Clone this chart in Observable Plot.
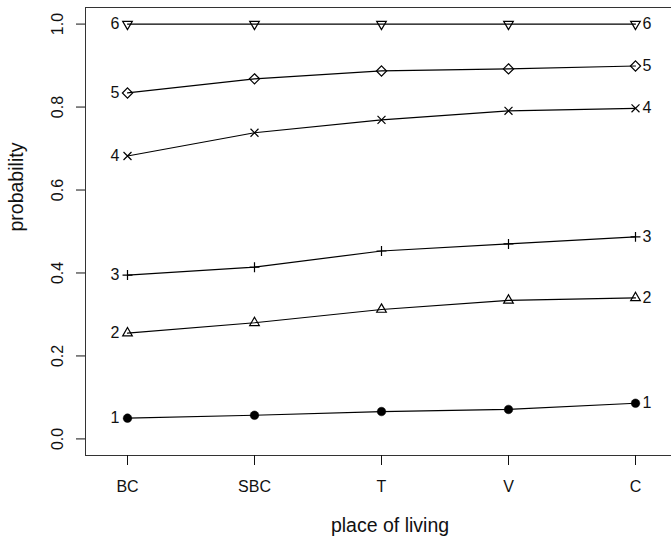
<!DOCTYPE html>
<html>
<head>
<meta charset="utf-8">
<script src="https://cdn.jsdelivr.net/npm/d3@7"></script>
<script src="https://cdn.jsdelivr.net/npm/@observablehq/plot@0.6"></script>
<style>
  html, body { margin: 0; padding: 0; background: white; overflow: hidden; }
  #chart { width: 671px; height: 542px; }
</style>
</head>
<body>
<div id="chart"></div>
<script>
// ---- data ----
const places = ["BC", "SBC", "T", "V", "C"];
const p1 = [0.050, 0.057, 0.066, 0.071, 0.086];
const p2 = [0.255, 0.280, 0.312, 0.334, 0.340];
const p3 = [0.395, 0.414, 0.453, 0.470, 0.487];
const p4 = [0.682, 0.738, 0.769, 0.791, 0.797];
const p5 = [0.834, 0.868, 0.887, 0.892, 0.899];
const p6 = [1.000, 1.000, 1.000, 1.000, 1.000];
const seriesNames = ["1", "2", "3", "4", "5", "6"];
const yTicks = [0, 0.2, 0.4, 0.6, 0.8, 1.0];
const xTitle = "place of living";
const yTitle = "probability";

// ---- build table ----
const seriesValues = [p1, p2, p3, p4, p5, p6];
const rows = [];
seriesValues.forEach((vals, s) => {
  vals.forEach((v, i) => rows.push({series: seriesNames[s], place: places[i], value: v}));
});
const firsts = rows.filter(d => d.place === places[0]);
const lasts = rows.filter(d => d.place === places[places.length - 1]);
const bySeries = name => rows.filter(d => d.series === name);

const font = "'Liberation Sans', Arial, Helvetica, sans-serif";

const chart = Plot.plot({
  width: 671,
  height: 542,
  marginLeft: 85,
  marginRight: -23,
  marginTop: 7,
  marginBottom: 87,
  style: {fontFamily: font, background: "white", color: "#111", overflow: "hidden"},
  x: {type: "point", domain: places, range: [126.7, 636], padding: 0},
  y: {domain: [-0.04, 1.04]},
  marks: [
    Plot.frame({stroke: "#333", strokeWidth: 1}),
    Plot.axisX({ticks: places, tickSize: 10, tickPadding: 15, fontSize: 16, label: null}),
    Plot.axisY({ticks: yTicks, tickSize: 9, tickPadding: 14, tickRotate: -90, tickFormat: d3.format(".1f"), fontSize: 16, label: null}),
    Plot.text([xTitle], {frameAnchor: "bottom", text: d => d, dy: 76, fontSize: 19.5, lineAnchor: "bottom"}),
    Plot.text([yTitle], {frameAnchor: "left", text: d => d, rotate: -90, dx: -69, fontSize: 19.5}),
    Plot.line(rows, {x: "place", y: "value", z: "series", stroke: "black", strokeWidth: 1.2}),
    Plot.dot(bySeries("1"), {x: "place", y: "value", symbol: "circle", r: 4.3, fill: "black", stroke: "black", strokeWidth: 0.5}),
    Plot.dot(bySeries("2"), {x: "place", y: "value", symbol: "triangle2", r: 4.6, fill: "none", stroke: "black", strokeWidth: 1.2}),
    Plot.dot(bySeries("3"), {x: "place", y: "value", symbol: "plus", r: 3.3, fill: "none", stroke: "black", strokeWidth: 1.2}),
    Plot.dot(bySeries("4"), {x: "place", y: "value", symbol: "times", r: 3.7, fill: "none", stroke: "black", strokeWidth: 1.2}),
    Plot.dot(bySeries("5"), {x: "place", y: "value", symbol: "diamond2", r: 4.6, fill: "none", stroke: "black", strokeWidth: 1.2}),
    Plot.dot(bySeries("6"), {x: "place", y: "value", symbol: "triangle2", rotate: 180, r: 4.6, fill: "none", stroke: "black", strokeWidth: 1.2}),
    Plot.text(firsts, {x: "place", y: "value", text: "series", textAnchor: "end", dx: -8, fontSize: 16}),
    Plot.text(lasts, {x: "place", y: "value", text: "series", textAnchor: "start", dx: 7, fontSize: 16})
  ]
});
document.getElementById("chart").appendChild(chart);
</script>
</body>
</html>
